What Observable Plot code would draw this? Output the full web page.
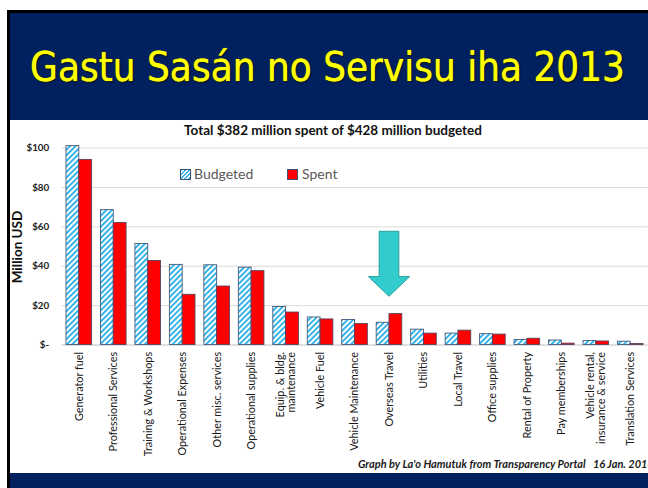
<!DOCTYPE html>
<html>
<head>
<meta charset="utf-8">
<script src="https://cdn.jsdelivr.net/npm/d3@7"></script>
<script src="https://cdn.jsdelivr.net/npm/@observablehq/plot@0.6"></script>
<style>
  body { margin: 0; background: #fff; }
  #page { position: relative; width: 648px; height: 488px; overflow: hidden; background: #fff; font-family: Lato, sans-serif; }
  .blk { position: absolute; background: #000; }
  .navy { position: absolute; background: #002060; }
  #title { position: absolute; left: 30px; top: 47px; font-family: "DejaVu Sans", sans-serif; font-size: 41px; line-height: 41px; color: #ffff00; white-space: nowrap; transform-origin: 0 0; text-shadow: 0 0 1px #ffff00, 1px 1px 2px rgba(0,0,0,0.8); }
  #chart { position: absolute; left: 0; top: 120px; width: 648px; height: 352px; overflow: hidden; }
  #subtitle { position: absolute; left: 0; width: 666px; top: 122px; text-align: center; font: bold 13.5px Lato, sans-serif; color: #111; white-space: nowrap; }
  #ytitle { position: absolute; left: 17px; top: 247px; transform: translate(-50%, -50%) rotate(-90deg); font: bold 13.5px Lato, sans-serif; color: #111; white-space: nowrap; }
  .leg { position: absolute; font: 14px Lato, sans-serif; color: #595959; white-space: nowrap; line-height: 14px; }
  .sw { position: absolute; width: 9px; height: 9px; border: 1px solid #3f5070; }
  #caption { position: absolute; left: 358px; top: 457px; font: italic bold 11px Lato, sans-serif; color: #1a1a1a; white-space: pre; }
</style>
</head>
<body>
<div id="page">
  <div class="blk" style="left:7px;top:10px;width:641px;height:2.5px"></div>
  <div class="blk" style="left:7px;top:10px;width:2.5px;height:478px"></div>
  <div class="navy" style="left:9.5px;top:12.5px;width:639px;height:107.5px"></div>
  <div class="navy" style="left:9.5px;top:472.5px;width:639px;height:16px"></div>
  <div id="title">Gastu Sasán no Servisu iha 2013</div>
  <div id="chart"></div>
  <div id="subtitle">Total $382 million spent of $428 million budgeted</div>
  <div id="ytitle">Million USD</div>
  <div class="sw" style="left:180px;top:169px;background:repeating-linear-gradient(135deg,#36b3e8 0 1.4px,#fff 1.4px 2.8px)"></div>
  <div class="leg" style="left:194px;top:167px">Budgeted</div>
  <div class="sw" style="left:287px;top:169px;background:#ff0000"></div>
  <div class="leg" style="left:302px;top:167px">Spent</div>
  <div id="caption">Graph by La'o Hamutuk from Transparency Portal   16 Jan. 2014</div>
</div>
<script>
const categories = ["Generator fuel", "Professional Services", "Training & Workshops", "Operational Expenses", "Other misc. services", "Operational supplies", "Equip. & bldg.\nmaintenance", "Vehicle Fuel", "Vehicle Maintenance", "Overseas Travel", "Utilities", "Local Travel", "Office supplies", "Rental of Property", "Pay memberships", "Vehicle rental,\ninsurance & service", "Translation Services"];
const budgeted = [101, 68.5, 51.3, 40.7, 40.5, 39.3, 19.3, 14, 12.7, 11.3, 7.8, 5.8, 5.5, 2.5, 2.3, 2, 1.7];
const spent = [94, 62, 42.7, 25.5, 29.7, 37.5, 16.5, 13, 10.7, 15.7, 5.8, 7.3, 5.3, 3.2, 0.7, 1.8, 0.5];
const yTicks = [0, 20, 40, 60, 80, 100];
const arrowTarget = "Overseas Travel";
const arrowTop = 57.5, arrowHeadBase = 34.5, arrowTip = 24.5;

const rows = categories.map((c, i) => ({category: c, budgeted: budgeted[i], spent: spent[i]}));

function arrowMark(index, scales) {
  const sx = scales.x, sy = scales.y;
  let bw = sx.bandwidth;
  if (typeof bw === "function") bw = bw();
  if (bw == null) bw = 0;
  const cx = sx(arrowTarget) + bw / 2;
  const yt = sy(arrowTop), yb = sy(arrowHeadBase), yp = sy(arrowTip);
  const sh = 10, hh = 21;
  const p = `M${cx - sh},${yt}L${cx + sh},${yt}L${cx + sh},${yb}L${cx + hh},${yb}L${cx},${yp}L${cx - hh},${yb}L${cx - sh},${yb}Z`;
  const g = d3.create("svg:path").attr("d", p).attr("fill", "#33cccc").attr("stroke", "#2a9d9d").attr("stroke-width", 1);
  return g.node();
}

const plot = Plot.plot({
  width: 658,
  height: 352,
  marginLeft: 62.5,
  marginRight: 0.5,
  marginTop: 28,
  marginBottom: 124,
  style: {background: "transparent", fontFamily: "Lato, sans-serif", color: "#222"},
  x: {domain: categories, paddingInner: 9 / 35, paddingOuter: 4.5 / 35, label: null},
  y: {domain: [0, 100], label: null},
  marks: [
    Plot.gridY(yTicks.filter(d => d > 0), {stroke: "#d9d9d9", strokeOpacity: 1, strokeWidth: 1}),
    Plot.ruleY([0], {stroke: "#bfbfbf", strokeWidth: 1}),
    Plot.barY(rows, {x: "category", y: "budgeted", fill: "url(#hatch)", stroke: "#41587a", strokeWidth: 0.9, insetRight: 13}),
    Plot.barY(rows, {x: "category", y: "spent", fill: "#ff0000", stroke: "#5a4060", strokeWidth: 0.9, insetLeft: 13}),
    Plot.axisY({ticks: yTicks, tickSize: 0, tickPadding: 13, tickFormat: d => d === 0 ? "$-" : "$" + d, fontSize: 10, fontWeight: "bold", label: null}),
    Plot.axisX({tickSize: 0, tickPadding: 7, tickRotate: -90, fontSize: 11, label: null, fill: "#1a1a1a"}),
    arrowMark
  ]
});

const defs = d3.create("svg:defs");
const pat = defs.append("pattern").attr("id", "hatch").attr("patternUnits", "userSpaceOnUse")
  .attr("width", 4).attr("height", 4).attr("patternTransform", "rotate(45)");
pat.append("rect").attr("width", 4).attr("height", 4).attr("fill", "#fff");
pat.append("rect").attr("width", 2).attr("height", 4).attr("fill", "#36b3e8");
plot.insertBefore(defs.node(), plot.firstChild);

document.getElementById("chart").appendChild(plot);

const t = document.getElementById("title");
const w = t.getBoundingClientRect().width;
t.style.transform = `scaleX(${595 / w})`;
</script>
</body>
</html>
